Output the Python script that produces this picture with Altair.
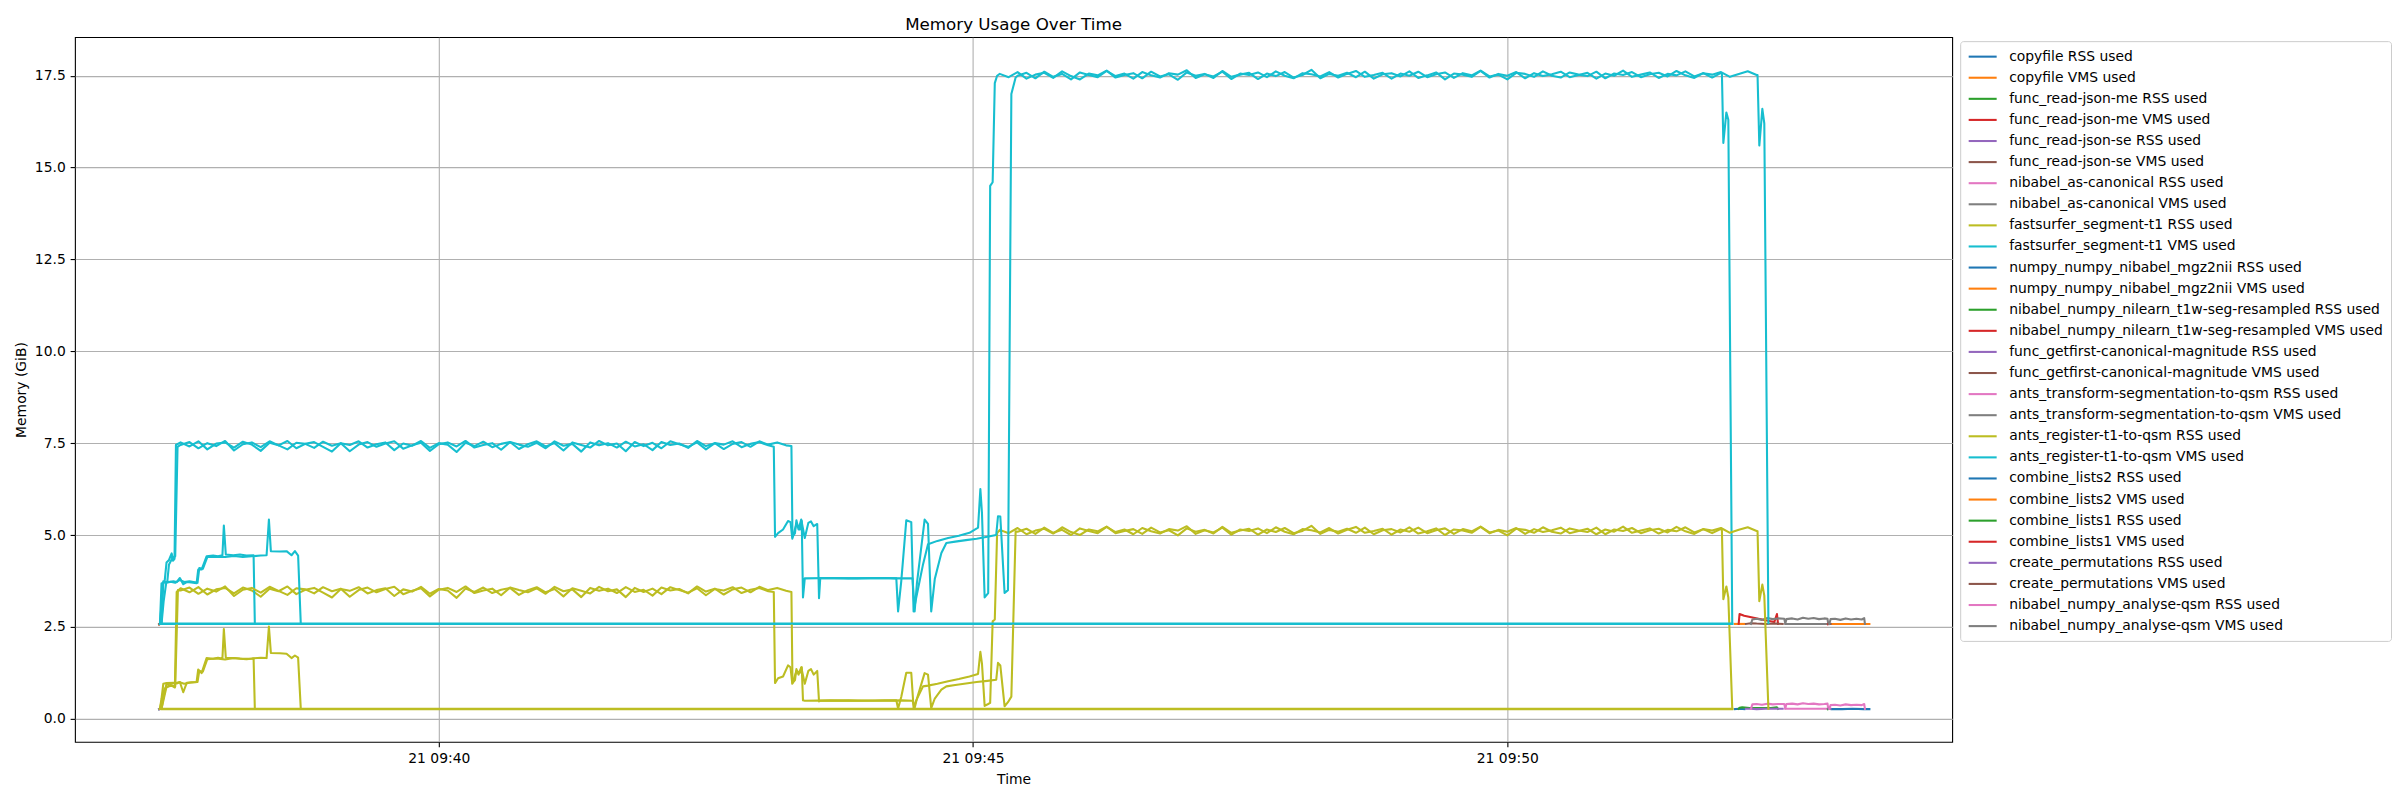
import altair as alt
import pandas as pd

BASE = pd.Timestamp("2024-05-21 09:37:00")

LABELS = [
    "copyfile RSS used", "copyfile VMS used",
    "func_read-json-me RSS used", "func_read-json-me VMS used",
    "func_read-json-se RSS used", "func_read-json-se VMS used",
    "nibabel_as-canonical RSS used", "nibabel_as-canonical VMS used",
    "fastsurfer_segment-t1 RSS used", "fastsurfer_segment-t1 VMS used",
    "numpy_numpy_nibabel_mgz2nii RSS used", "numpy_numpy_nibabel_mgz2nii VMS used",
    "nibabel_numpy_nilearn_t1w-seg-resampled RSS used", "nibabel_numpy_nilearn_t1w-seg-resampled VMS used",
    "func_getfirst-canonical-magnitude RSS used", "func_getfirst-canonical-magnitude VMS used",
    "ants_transform-segmentation-to-qsm RSS used", "ants_transform-segmentation-to-qsm VMS used",
    "ants_register-t1-to-qsm RSS used", "ants_register-t1-to-qsm VMS used",
    "combine_lists2 RSS used", "combine_lists2 VMS used",
    "combine_lists1 RSS used", "combine_lists1 VMS used",
    "create_permutations RSS used", "create_permutations VMS used",
    "nibabel_numpy_analyse-qsm RSS used", "nibabel_numpy_analyse-qsm VMS used",
]
TAB10 = ["#1f77b4", "#ff7f0e", "#2ca02c", "#d62728", "#9467bd",
         "#8c564b", "#e377c2", "#7f7f7f", "#bcbd22", "#17becf"]
COLORS = [TAB10[i % 10] for i in range(len(LABELS))]

# ---- times are seconds after 09:37:00 ----
# small start steps
START_T = {"copyfile": [22.9, 23.4], "func_read-json-me": [23.0, 23.6],
           "func_read-json-se": [23.1, 23.7], "nibabel_as-canonical": [23.2, 23.8]}
START_RSS = [0.26, 0.27]
START_VMS = [2.57, 2.58]

# fastsurfer: flat, short, long traces
FS_FLAT_T = [23.4, 906.3]
FS_FLAT_RSS = [0.27, 0.27]
FS_FLAT_VMS = [2.58, 2.58]

FS_SHORT_T = [23.4, 24.3, 25.3, 27.1, 30.9, 32.8, 34.6, 36.5, 38.5, 41.0, 44.0, 44.9,
              46.8, 49.6, 53.3, 56.0, 58.5, 59.3, 60.4, 64.6, 68.3, 72.0, 76.0, 76.7]
FS_SHORT_RSS = [0.27, 0.55, 0.95, 0.97, 0.98, 0.96, 1.0, 0.72, 0.98, 0.99, 1.0, 1.34,
                1.24, 1.65, 1.63, 1.66, 1.64, 2.44, 1.66, 1.65, 1.63, 1.62, 1.64, 0.27]
FS_SHORT_VMS = [2.58, 3.1, 3.74, 3.7, 3.74, 3.72, 3.83, 3.66, 3.72, 3.71, 3.69, 4.06,
                4.06, 4.42, 4.44, 4.42, 4.45, 5.26, 4.47, 4.45, 4.47, 4.44, 4.45, 2.58]

FS_RSS_PRE_T = [23.4, 26.0, 28.0, 30.0, 31.8, 32.8]
FS_RSS_PRE = [0.27, 0.82, 0.88, 0.9, 0.85, 3.45]
FS_VMS_PRE_T = [23.4, 24.3, 26.0, 27.1, 28.5, 30.0, 30.8, 31.6, 32.4]
FS_VMS_PRE = [2.58, 3.68, 3.72, 4.25, 4.32, 4.5, 4.3, 4.35, 7.45]

FS_P1_START = 35
FS_RSS_P1 = [
    3.55, 3.44, 3.58, 3.38, 3.52, 3.56, 3.41, 3.57, 3.49, 3.32,
    3.54, 3.47, 3.60, 3.39, 3.51, 3.56, 3.43, 3.30, 3.53, 3.48,
    3.58, 3.41, 3.50, 3.55, 3.34, 3.52, 3.46, 3.59, 3.40, 3.53,
    3.49, 3.29, 3.54, 3.45, 3.57, 3.42, 3.51, 3.56, 3.37, 3.50,
    3.58, 3.44, 3.53, 3.33, 3.55, 3.48, 3.41, 3.59, 3.47, 3.52,
    3.31, 3.56, 3.45, 3.54, 3.39, 3.58, 3.50, 3.43, 3.55, 3.36,
    3.53, 3.49, 3.58, 3.42, 3.51, 3.56, 3.47]
FS_VMS_P1 = [
    7.52, 7.41, 7.55, 7.33, 7.49, 7.52, 7.38, 7.54, 7.46, 7.29,
    7.51, 7.44, 7.56, 7.36, 7.48, 7.53, 7.40, 7.27, 7.50, 7.45,
    7.55, 7.38, 7.47, 7.52, 7.31, 7.49, 7.43, 7.56, 7.37, 7.50,
    7.46, 7.26, 7.51, 7.42, 7.54, 7.39, 7.48, 7.53, 7.34, 7.47,
    7.55, 7.41, 7.50, 7.30, 7.52, 7.45, 7.38, 7.56, 7.44, 7.49,
    7.28, 7.53, 7.42, 7.51, 7.36, 7.55, 7.47, 7.40, 7.52, 7.33,
    7.50, 7.46, 7.55, 7.39, 7.48, 7.53, 7.44]

FS_MID_T = [368.1, 368.8, 370.5, 373.3, 376.1, 377.5, 378.5, 380.8, 382.7, 383.8,
            384.5, 385.5, 400.0, 415.0, 430.0, 436.9, 437.9, 439.7, 442.5, 445.3,
            446.6, 448.1, 451.9, 454.7, 460.0, 466.0, 472.0, 478.0, 482.8, 484.1,
            485.0, 486.5, 488.5, 489.6, 491.0, 492.2, 493.5]
FS_RSS_MID = [3.45, 0.97, 1.1, 1.15, 1.45, 1.4, 0.95, 1.3, 1.25, 1.4,
              0.5, 0.49, 0.5, 0.49, 0.5, 0.5, 0.28, 0.6, 1.25, 1.25,
              0.29, 0.5, 0.88, 0.9, 0.95, 1.02, 1.08, 1.15, 1.22, 1.82,
              1.5, 0.35, 0.4, 0.43, 2.65, 2.7, 5.05]
FS_VMS_MID = [7.4, 4.95, 5.05, 5.15, 5.38, 5.35, 4.9, 5.3, 5.15, 5.38,
              3.3, 3.82, 3.83, 3.82, 3.83, 3.82, 2.92, 3.75, 5.4, 5.35,
              2.92, 3.3, 4.2, 4.75, 4.84, 4.92, 4.98, 5.06, 5.2, 6.25,
              5.6, 3.3, 3.42, 14.5, 14.6, 17.3, 17.5]

FS_P2_START = 495
FS_RSS_P2 = [
    5.14, 5.05, 5.19, 5.02, 5.12, 5.17, 5.04, 5.21, 5.08, 5.00,
    5.15, 5.10, 5.23, 5.05, 5.11, 5.16, 5.03, 5.20, 5.07, 5.13,
    4.99, 5.18, 5.09, 5.14, 5.04, 5.22, 5.06, 5.12, 5.17, 5.01,
    5.15, 5.08, 5.19, 5.05, 5.11, 5.25, 5.03, 5.14, 5.09, 5.17,
    5.06, 5.20, 5.02, 5.13, 5.16, 5.07, 5.21, 5.04, 5.10, 5.18,
    5.00, 5.15, 5.12, 5.06, 5.22, 5.05, 5.14, 5.09, 5.19, 5.03,
    5.16, 5.08, 5.13, 5.20, 5.05, 5.11, 5.17, 5.02, 5.15, 5.09,
    5.23, 5.06, 5.12, 5.18, 5.04, 5.14, 5.10, 5.21, 5.07, 5.16,
    5.05, 5.17]
FS_VMS_P2 = [
    17.55, 17.46, 17.60, 17.42, 17.53, 17.58, 17.44, 17.62, 17.49, 17.40,
    17.56, 17.51, 17.64, 17.45, 17.52, 17.57, 17.43, 17.61, 17.48, 17.54,
    17.39, 17.59, 17.50, 17.55, 17.44, 17.63, 17.47, 17.53, 17.58, 17.41,
    17.56, 17.49, 17.60, 17.45, 17.52, 17.66, 17.43, 17.55, 17.50, 17.58,
    17.46, 17.61, 17.42, 17.54, 17.57, 17.48, 17.62, 17.44, 17.51, 17.59,
    17.40, 17.56, 17.53, 17.47, 17.63, 17.45, 17.55, 17.50, 17.60, 17.43,
    17.57, 17.49, 17.54, 17.61, 17.46, 17.52, 17.58, 17.42, 17.56, 17.50,
    17.64, 17.47, 17.53, 17.59, 17.44, 17.55, 17.51, 17.62, 17.48, 17.57,
    17.45, 17.58]

FS_END_T = [900.5, 901.3, 903.0, 904.1, 906.3]
FS_RSS_END = [5.12, 3.25, 3.6, 3.3, 0.27]
FS_VMS_END = [17.55, 15.67, 16.5, 16.3, 2.58]

# ants_register: flat, short, long traces
AR_FLAT_T = [24.3, 906.3]
AR_FLAT_RSS = [0.26, 0.26]
AR_FLAT_VMS = [2.59, 2.59]

AR_SHORT_T = [24.3, 25.5, 27.0, 29.5, 32.0, 34.5, 37.0, 40.0, 44.5, 45.5,
              47.5, 50.0, 55.0, 60.0, 65.0, 70.0, 75.0, 80.0, 83.3, 84.6,
              85.7, 90.8, 94.5, 97.3, 99.2, 101.0, 102.5]
AR_SHORT_RSS = [0.27, 0.6, 0.93, 0.96, 0.97, 0.99, 0.95, 0.98, 1.0, 1.3,
                1.28, 1.62, 1.64, 1.61, 1.65, 1.63, 1.64, 1.66, 1.65, 2.51,
                1.79, 1.78, 1.77, 1.65, 1.72, 1.66, 0.27]
AR_SHORT_VMS = [2.58, 3.2, 3.72, 3.73, 3.7, 3.78, 3.72, 3.74, 3.7, 4.1,
                4.08, 4.4, 4.41, 4.4, 4.43, 4.4, 4.42, 4.44, 4.45, 5.42,
                4.56, 4.55, 4.56, 4.45, 4.56, 4.44, 2.58]

AR_RSS_PRE_T = [24.3, 27.0, 29.5, 32.0, 33.5]
AR_RSS_PRE = [0.27, 0.85, 0.92, 0.88, 3.5]
AR_VMS_PRE_T = [24.3, 25.3, 27.5, 28.5, 30.5, 32.0, 33.3]
AR_VMS_PRE = [2.58, 3.7, 3.72, 4.2, 4.38, 4.42, 7.4]

AR_P1_START = 35
AR_RSS_P1 = [
    3.49, 3.57, 3.40, 3.54, 3.46, 3.60, 3.34, 3.51, 3.56, 3.43,
    3.59, 3.48, 3.37, 3.55, 3.52, 3.41, 3.58, 3.47, 3.54, 3.32,
    3.50, 3.57, 3.44, 3.53, 3.59, 3.39, 3.48, 3.55, 3.33, 3.51,
    3.56, 3.45, 3.60, 3.42, 3.49, 3.54, 3.36, 3.57, 3.50, 3.44,
    3.55, 3.40, 3.59, 3.47, 3.52, 3.31, 3.56, 3.48, 3.54, 3.42,
    3.58, 3.45, 3.51, 3.35, 3.57, 3.49, 3.53, 3.41, 3.60, 3.46,
    3.54, 3.38, 3.52, 3.57, 3.44, 3.59, 3.50, 3.56, 3.48]
AR_VMS_P1 = [
    7.45, 7.53, 7.36, 7.50, 7.42, 7.56, 7.30, 7.47, 7.52, 7.39,
    7.55, 7.44, 7.33, 7.51, 7.48, 7.37, 7.54, 7.43, 7.50, 7.28,
    7.46, 7.53, 7.40, 7.49, 7.55, 7.35, 7.44, 7.51, 7.29, 7.47,
    7.52, 7.41, 7.56, 7.38, 7.45, 7.50, 7.32, 7.53, 7.46, 7.40,
    7.51, 7.36, 7.55, 7.43, 7.48, 7.27, 7.52, 7.44, 7.50, 7.38,
    7.54, 7.41, 7.47, 7.31, 7.53, 7.45, 7.49, 7.37, 7.56, 7.42,
    7.50, 7.34, 7.48, 7.53, 7.40, 7.55, 7.46, 7.52, 7.44]

AR_MID_T = [378.0, 378.6, 380.0, 380.8, 382.0, 383.5, 385.5, 387.5, 389.0, 390.5,
            392.5, 393.5, 394.2, 410.0, 425.0, 440.0, 446.0, 447.2, 448.5, 452.8,
            454.7, 456.5, 458.5, 462.2, 465.0, 470.0, 476.0, 482.0, 488.0, 493.0,
            494.0, 495.3, 497.7, 499.6, 501.5, 503.9]
AR_RSS_MID = [3.45, 0.97, 1.05, 1.35, 1.2, 1.4, 0.95, 1.3, 1.35, 1.2,
              1.3, 0.47, 0.49, 0.5, 0.49, 0.5, 0.49, 0.29, 0.55, 1.24,
              1.2, 0.29, 0.55, 0.79, 0.88, 0.92, 0.96, 1.0, 1.03, 1.06,
              1.52, 1.45, 0.34, 0.45, 0.6, 5.1]
AR_VMS_MID = [7.42, 4.95, 5.05, 5.4, 5.15, 5.42, 4.92, 5.33, 5.37, 5.24,
              5.3, 3.28, 3.83, 3.82, 3.83, 3.82, 3.82, 2.92, 3.7, 5.42,
              5.3, 2.92, 3.8, 4.51, 4.78, 4.82, 4.86, 4.9, 4.95, 5.0,
              5.51, 5.5, 3.42, 3.5, 17.0, 17.45]

AR_P2_START = 505
AR_RSS_P2 = [
    5.09, 5.17, 5.03, 5.20, 5.06, 5.14, 5.00, 5.18, 5.11, 5.05,
    5.22, 5.08, 5.15, 5.02, 5.19, 5.10, 5.04, 5.16, 5.12, 5.24,
    5.03, 5.13, 5.07, 5.20, 5.01, 5.15, 5.11, 5.18, 5.05, 5.21,
    5.09, 5.02, 5.16, 5.13, 5.07, 5.19, 5.04, 5.14, 5.22, 5.06,
    5.11, 5.17, 5.01, 5.15, 5.09, 5.20, 5.05, 5.13, 5.18, 5.03,
    5.16, 5.10, 5.23, 5.07, 5.12, 4.99, 5.17, 5.14, 5.06, 5.21,
    5.09, 5.04, 5.18, 5.12, 5.08, 5.20, 5.02, 5.15, 5.11, 5.19,
    5.05, 5.13, 5.17, 5.07, 5.22, 5.10, 5.03, 5.16, 5.12, 5.19,
    5.06, 5.14, 5.21, 5.11]
AR_VMS_P2 = [
    17.50, 17.58, 17.43, 17.61, 17.47, 17.55, 17.40, 17.59, 17.52, 17.46,
    17.63, 17.49, 17.56, 17.42, 17.60, 17.51, 17.45, 17.57, 17.53, 17.65,
    17.44, 17.54, 17.48, 17.61, 17.41, 17.56, 17.52, 17.59, 17.46, 17.62,
    17.50, 17.43, 17.57, 17.54, 17.48, 17.60, 17.45, 17.55, 17.63, 17.47,
    17.52, 17.58, 17.42, 17.56, 17.50, 17.61, 17.46, 17.54, 17.59, 17.44,
    17.57, 17.51, 17.64, 17.48, 17.53, 17.40, 17.58, 17.55, 17.47, 17.62,
    17.50, 17.45, 17.59, 17.53, 17.49, 17.61, 17.43, 17.56, 17.52, 17.60,
    17.46, 17.54, 17.58, 17.48, 17.63, 17.51, 17.44, 17.57, 17.53, 17.60,
    17.47, 17.55, 17.62, 17.52]

AR_END_T = [920.5, 921.5, 923.2, 924.3, 926.6]
AR_RSS_END = [5.1, 3.2, 3.65, 3.35, 0.27]
AR_VMS_END = [17.52, 15.6, 16.6, 16.2, 2.6]

# small steps at the end
MGZ_T = [907.8, 910.5, 913.1]
MGZ_RSS = [0.26, 0.27, 0.26]
MGZ_VMS = [2.58, 2.58, 2.58]

NIL_RSS_T = [909.9, 910.4, 911.9, 916.0, 922.0, 928.0, 931.4, 932.0]
NIL_RSS = [0.27, 0.3, 0.31, 0.29, 0.29, 0.29, 0.31, 0.27]
NIL_VMS_T = [909.9, 910.4, 913.0, 917.0, 921.0, 925.0, 929.9, 931.4, 932.0]
NIL_VMS = [2.58, 2.85, 2.8, 2.76, 2.72, 2.68, 2.63, 2.85, 2.58]

GF_T = [914.0, 916.8, 920.0, 925.0, 930.0, 934.6]
GF_RSS = [0.27, 0.27, 0.26, 0.27, 0.27, 0.27]
GF_VMS = [2.58, 2.6, 2.59, 2.58, 2.59, 2.58]

AT_T = [916.8, 917.6, 920.0, 923.0, 926.0, 929.0, 932.0, 935.5, 936.1, 936.7,
        940.0, 943.0, 946.0, 949.0, 952.0, 955.0, 958.0, 959.8, 960.2]
AT_RSS = [0.27, 0.39, 0.4, 0.38, 0.41, 0.39, 0.4, 0.4, 0.28, 0.4,
          0.41, 0.39, 0.42, 0.4, 0.41, 0.39, 0.4, 0.41, 0.27]
AT_VMS = [2.58, 2.7, 2.72, 2.69, 2.74, 2.71, 2.73, 2.72, 2.59, 2.71,
          2.73, 2.7, 2.75, 2.72, 2.74, 2.71, 2.73, 2.72, 2.58]
AT2_T = [936.1, 960.2]
AT2_RSS = [0.27, 0.27]
AT2_VMS = [2.58, 2.58]

CL1_T = [960.0, 960.8]
CL1_RSS = [0.26, 0.27]
CL1_VMS = [2.57, 2.58]
CP_T = [960.4, 961.5]
CP_RSS = [0.27, 0.27]
CP_VMS = [2.58, 2.58]

AQ_T = [960.8, 961.5, 964.0, 967.0, 970.0, 973.0, 976.0, 979.0, 980.4, 980.8]
AQ_RSS = [0.27, 0.37, 0.38, 0.36, 0.39, 0.37, 0.38, 0.37, 0.4, 0.27]
AQ_VMS = [2.58, 2.71, 2.72, 2.69, 2.73, 2.7, 2.72, 2.7, 2.74, 2.58]

CL2_T = [962.1, 968.0, 974.0, 980.0, 983.3]
CL2_RSS = [0.26, 0.26, 0.27, 0.26, 0.26]
CL2_VMS = [2.58, 2.58, 2.58, 2.58, 2.58]

# ---------------------------------------------------------------
rows = []


def add(label, seg, times, values):
    if len(times) != len(values):
        raise ValueError(f"length mismatch for {label}/{seg}: {len(times)} vs {len(values)}")
    for t, v in zip(times, values):
        ts = (BASE + pd.Timedelta(seconds=t)).strftime("%Y-%m-%dT%H:%M:%S.%f")[:-3]
        rows.append({"time": ts, "mem": v, "label": label, "seg": f"{label}|{seg}"})


def run(start, values):
    return [start + 5 * i for i in range(len(values))]


for name, ts in START_T.items():
    add(f"{name} RSS used", "a", ts, START_RSS)
    add(f"{name} VMS used", "a", ts, START_VMS)


def long_trace(pre_t, pre, p1s, p1, mid_t, mid, p2s, p2, end_t, end):
    t = pre_t + run(p1s, p1) + mid_t + run(p2s, p2) + end_t
    v = pre + p1 + mid + p2 + end
    return t, v


fsr = "fastsurfer_segment-t1 RSS used"
fsv = "fastsurfer_segment-t1 VMS used"
add(fsr, "flat", FS_FLAT_T, FS_FLAT_RSS)
add(fsr, "short", FS_SHORT_T, FS_SHORT_RSS)
add(fsr, "long", *long_trace(FS_RSS_PRE_T, FS_RSS_PRE, FS_P1_START, FS_RSS_P1, FS_MID_T,
                             FS_RSS_MID, FS_P2_START, FS_RSS_P2, FS_END_T, FS_RSS_END))
add(fsv, "flat", FS_FLAT_T, FS_FLAT_VMS)
add(fsv, "short", FS_SHORT_T, FS_SHORT_VMS)
add(fsv, "long", *long_trace(FS_VMS_PRE_T, FS_VMS_PRE, FS_P1_START, FS_VMS_P1, FS_MID_T,
                             FS_VMS_MID, FS_P2_START, FS_VMS_P2, FS_END_T, FS_VMS_END))

add("numpy_numpy_nibabel_mgz2nii RSS used", "a", MGZ_T, MGZ_RSS)
add("numpy_numpy_nibabel_mgz2nii VMS used", "a", MGZ_T, MGZ_VMS)
add("nibabel_numpy_nilearn_t1w-seg-resampled RSS used", "a", NIL_RSS_T, NIL_RSS)
add("nibabel_numpy_nilearn_t1w-seg-resampled VMS used", "a", NIL_VMS_T, NIL_VMS)
add("func_getfirst-canonical-magnitude RSS used", "a", GF_T, GF_RSS)
add("func_getfirst-canonical-magnitude VMS used", "a", GF_T, GF_VMS)
add("ants_transform-segmentation-to-qsm RSS used", "a", AT_T, AT_RSS)
add("ants_transform-segmentation-to-qsm RSS used", "b", AT2_T, AT2_RSS)
add("ants_transform-segmentation-to-qsm VMS used", "a", AT_T, AT_VMS)
add("ants_transform-segmentation-to-qsm VMS used", "b", AT2_T, AT2_VMS)

arr = "ants_register-t1-to-qsm RSS used"
arv = "ants_register-t1-to-qsm VMS used"
add(arr, "flat", AR_FLAT_T, AR_FLAT_RSS)
add(arr, "short", AR_SHORT_T, AR_SHORT_RSS)
add(arr, "long", *long_trace(AR_RSS_PRE_T, AR_RSS_PRE, AR_P1_START, AR_RSS_P1, AR_MID_T,
                             AR_RSS_MID, AR_P2_START, AR_RSS_P2, AR_END_T, AR_RSS_END))
add(arv, "flat", AR_FLAT_T, AR_FLAT_VMS)
add(arv, "short", AR_SHORT_T, AR_SHORT_VMS)
add(arv, "long", *long_trace(AR_VMS_PRE_T, AR_VMS_PRE, AR_P1_START, AR_VMS_P1, AR_MID_T,
                             AR_VMS_MID, AR_P2_START, AR_VMS_P2, AR_END_T, AR_VMS_END))

add("combine_lists2 RSS used", "a", CL2_T, CL2_RSS)
add("combine_lists2 VMS used", "a", CL2_T, CL2_VMS)
add("combine_lists1 RSS used", "a", CL1_T, CL1_RSS)
add("combine_lists1 VMS used", "a", CL1_T, CL1_VMS)
add("create_permutations RSS used", "a", CP_T, CP_RSS)
add("create_permutations VMS used", "a", CP_T, CP_VMS)
add("nibabel_numpy_analyse-qsm RSS used", "a", AQ_T, AQ_RSS)
add("nibabel_numpy_analyse-qsm VMS used", "a", AQ_T, AQ_VMS)

df = pd.DataFrame(rows)


def dt(h, m, s=0, ms=0):
    return alt.DateTime(year=2024, month=5, date=21, hours=h, minutes=m, seconds=s, milliseconds=ms)


FONT = "DejaVu Sans"

chart = alt.Chart(df).mark_line(
    strokeWidth=2.08, strokeJoin="round", strokeCap="square"
).encode(
    x=alt.X(
        "time:T", title="Time",
        scale=alt.Scale(domain=[dt(9, 36, 35, 700), dt(9, 54, 9, 800)]),
        axis=alt.Axis(values=[dt(9, 40), dt(9, 45), dt(9, 50)], format="%d %H:%M",
                      titlePadding=7),
    ),
    y=alt.Y(
        "mem:Q", title="Memory (GiB)",
        scale=alt.Scale(domain=[-0.63, 18.55], nice=False, zero=False),
        axis=alt.Axis(values=[0, 2.5, 5, 7.5, 10, 12.5, 15, 17.5], format=".1f",
                      titlePadding=5.6),
    ),
    color=alt.Color(
        "label:N",
        scale=alt.Scale(domain=LABELS, range=COLORS),
        legend=alt.Legend(
            title=None, orient="none", legendX=1886, legendY=4,
            labelFont=FONT, labelFontSize=13.9, labelColor="black", labelLimit=700,
            symbolType="M-1,0H3", symbolSize=196, symbolStrokeWidth=2.08, symbolOffset=0,
            labelOffset=25, rowPadding=5.1, padding=7.0,
            strokeColor="#cccccc", cornerRadius=3, fillColor="white",
        ),
    ),
    detail="seg:N",
).properties(
    width=1878, height=705,
    title=alt.TitleParams(
        text="Memory Usage Over Time", font=FONT, fontSize=16.7, fontWeight="normal",
        color="black", anchor="middle", frame="group", offset=-14, baseline="bottom",
    ),
    padding={"left": 67, "top": 29, "right": 440, "bottom": 55},
    autosize=alt.AutoSizeParams(type="none"),
).configure(
    background="white"
).configure_view(
    stroke="black", strokeWidth=1.1
).configure_axis(
    labelFont=FONT, labelFontSize=13.9, labelColor="black",
    titleFont=FONT, titleFontSize=13.9, titleFontWeight="normal", titleColor="black",
    tickColor="black", tickWidth=1.1, tickSize=4.86, labelPadding=4.86,
    domain=False, grid=True, gridColor="#b0b0b0", gridWidth=1.1,
    labelFlush=False, labelOverlap=False,
)

chart.save("out.html", embed_options={"renderer": "svg", "actions": False})
